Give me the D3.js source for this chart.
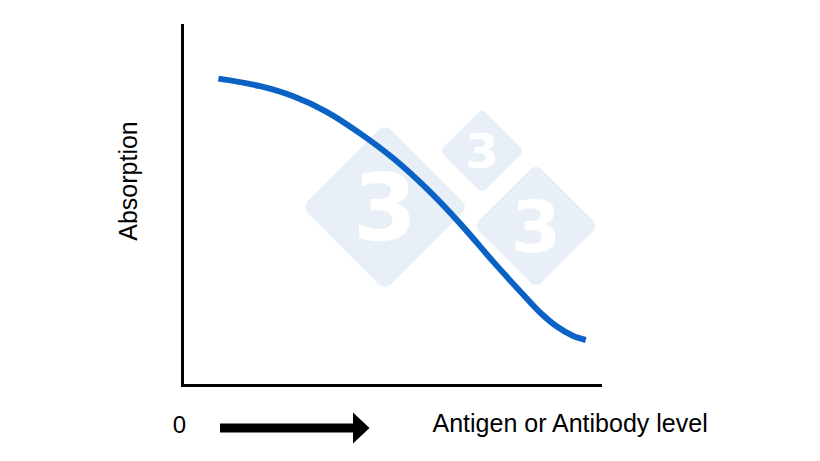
<!DOCTYPE html>
<html>
<head>
<meta charset="utf-8">
<script src="https://cdn.jsdelivr.net/npm/d3@7"></script>
<style>
  html, body { margin: 0; padding: 0; background: #ffffff; }
  svg { display: block; }
  text { font-family: "Liberation Sans", Arial, Helvetica, sans-serif; }
</style>
</head>
<body>
<svg id="chart" width="820" height="461"></svg>
<script>
// Antigen / antibody level (arbitrary units, 0..10)
const levels = [0.87, 1.87, 2.66, 3.46, 4.26, 5.06, 5.85, 6.65, 7.45, 8.17, 8.56, 8.96, 9.36, 9.66];
// Absorption (arbitrary units, 0..10)
const absorption = [8.51, 8.30, 8.02, 7.59, 6.99, 6.29, 5.46, 4.49, 3.42, 2.50, 2.02, 1.63, 1.36, 1.25];
const xLabel = "Antigen or Antibody level";
const yLabel = "Absorption";
const originLabel = "0";
const watermarkDigits = ["3", "3", "3"];

const svg = d3.select("#chart");
const x = d3.scaleLinear().domain([0, 10]).range([182, 600]);
const y = d3.scaleLinear().domain([0, 10]).range([385, 25]);

// Watermark (decorative)
const wm = [
  { cx: 385, cy: 207, side: 118, rx: 9, fs: 92 },
  { cx: 482, cy: 151, side: 60, rx: 6, fs: 48 },
  { cx: 536, cy: 226, side: 88, rx: 8, fs: 72 }
];
const wg = svg.append("g");
wm.forEach((d, i) => {
  const g = wg.append("g").attr("transform", `translate(${d.cx},${d.cy})`);
  g.append("rect")
    .attr("x", -d.side / 2).attr("y", -d.side / 2)
    .attr("width", d.side).attr("height", d.side)
    .attr("rx", d.rx).attr("ry", d.rx)
    .attr("transform", "rotate(45)")
    .attr("fill", "#e8eff7");
  g.append("text")
    .attr("text-anchor", "middle")
    .attr("dy", "0.36em")
    .style("font-size", d.fs + "px")
    .attr("font-weight", "bold")
    .attr("fill", "#ffffff")
    .style("font-family", "'DejaVu Sans', 'Liberation Sans', sans-serif")
    .text(watermarkDigits[i]);
});

// Axes (plain lines, no ticks)
const yAxis = d3.axisLeft(y).tickValues([]).tickSize(0);
const xAxis = d3.axisBottom(x).tickValues([]).tickSize(0);
svg.append("g").attr("transform", `translate(${x(0)},0)`).call(yAxis)
  .select(".domain").attr("stroke", "#000").attr("stroke-width", 3).attr("stroke-linecap", "square");
svg.append("g").attr("transform", `translate(0,${y(0)})`).call(xAxis)
  .select(".domain").attr("stroke", "#000").attr("stroke-width", 3).attr("stroke-linecap", "square");

// Curve
const data = levels.map((v, i) => [v, absorption[i]]);
const line = d3.line().x(d => x(d[0])).y(d => y(d[1])).curve(d3.curveCatmullRom.alpha(0.5));
svg.append("path")
  .datum(data)
  .attr("d", line)
  .attr("fill", "none")
  .attr("stroke", "#0a63c4")
  .attr("stroke-width", 6);

// Y label
svg.append("text")
  .attr("transform", `translate(137,181) rotate(-90)`)
  .attr("text-anchor", "middle")
  .style("font-size", "25px")
  .attr("fill", "#000")
  .text(yLabel);

// Origin label
svg.append("text")
  .attr("x", 179.5).attr("y", 433)
  .attr("text-anchor", "middle")
  .style("font-size", "24px")
  .attr("fill", "#000")
  .text(originLabel);

// Arrow
svg.append("rect").attr("x", 220).attr("y", 423.5).attr("width", 136).attr("height", 9).attr("fill", "#000");
svg.append("path").attr("d", "M353,412.5 L369.5,428 L353,443.5 Z").attr("fill", "#000");

// X label
svg.append("text")
  .attr("x", 432.5).attr("y", 432)
  .style("font-size", "25px")
  .attr("fill", "#000")
  .text(xLabel);
</script>
</body>
</html>
